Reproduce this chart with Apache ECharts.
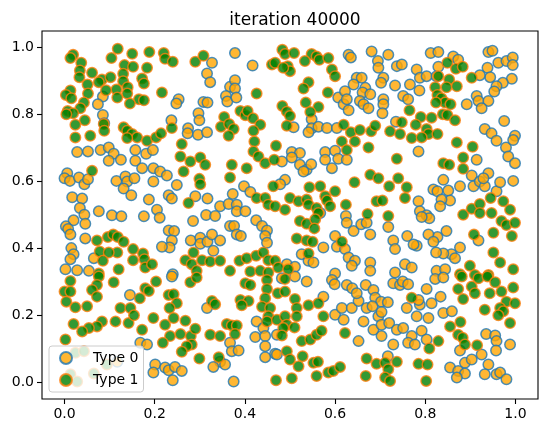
<!DOCTYPE html>
<html>
<head>
<meta charset="utf-8">
<script src="https://cdn.jsdelivr.net/npm/echarts@6/dist/echarts.min.js"></script>
<style>
  html, body { margin: 0; padding: 0; background: #fff; }
  #chart { width: 547px; height: 434px; }
</style>
</head>
<body>
<div id="chart"></div>
<script>
'use strict';
// data (x, y in data units)
var titleText = 'iteration 40000';
var seriesNames = ['Type 0', 'Type 1'];
var tickValues = [0, 0.2, 0.4, 0.6, 0.8, 1.0];

var type0 = [
  [0.085,0.854],[0.074,0.831],[0.085,0.799],[0.088,0.774],[0.028,0.688],[0.052,0.690],[0.080,0.694],[0.098,0.702],[0.109,0.683],[0.157,0.694],[0.181,0.683],
  [0.378,0.984],[0.327,0.955],[0.417,0.947],[0.316,0.923],[0.323,0.897],[0.367,0.883],[0.378,0.903],[0.378,0.878],[0.358,0.856],[0.361,0.839],[0.381,0.851],[0.253,0.846],[0.248,0.833],[0.308,0.838],[0.317,0.836],[0.297,0.804],[0.299,0.783],[0.237,0.783],[0.274,0.759],[0.273,0.744],[0.296,0.740],[0.316,0.747],[0.196,0.694],
  [0.630,0.979],[0.635,0.971],[0.681,0.989],[0.718,0.979],[0.695,0.960],[0.696,0.940],[0.737,0.945],[0.648,0.910],[0.659,0.910],[0.641,0.890],[0.667,0.880],[0.661,0.866],[0.678,0.861],[0.655,0.841],[0.663,0.831],[0.674,0.819],[0.707,0.910],[0.702,0.895],[0.733,0.887],[0.607,0.851],[0.622,0.870],[0.619,0.831],[0.626,0.846],[0.630,0.813],[0.707,0.846],[0.707,0.831],[0.705,0.804],[0.548,0.786],[0.548,0.759],[0.563,0.764],[0.582,0.760],[0.604,0.760],[0.541,0.747],[0.508,0.762],[0.504,0.688],[0.522,0.685],[0.578,0.688],[0.600,0.692],[0.735,0.779],
  [0.748,0.950],[0.812,0.984],[0.829,0.987],[0.862,0.974],[0.873,0.964],[0.940,0.987],[0.949,0.991],[0.962,0.955],[0.980,0.960],[0.994,0.971],[0.994,0.948],[0.938,0.940],[0.944,0.912],[0.921,0.918],[0.781,0.935],[0.788,0.910],[0.803,0.915],[0.825,0.915],[0.829,0.943],[0.766,0.890],[0.787,0.872],[0.751,0.856],[0.762,0.846],[0.992,0.907],[0.972,0.895],[0.958,0.885],[0.953,0.869],[0.914,0.856],[0.892,0.831],[0.918,0.841],[0.940,0.841],[0.925,0.819],[0.975,0.781],[0.932,0.757],[0.947,0.744],[0.958,0.722],[0.979,0.702],[0.999,0.737],[0.995,0.724],[0.785,0.690],
  [0.098,0.662],[0.125,0.665],[0.157,0.662],[0.172,0.640],[0.006,0.625],[0.000,0.610],[0.012,0.602],[0.032,0.612],[0.044,0.592],[0.052,0.607],[0.115,0.602],[0.135,0.615],[0.139,0.600],[0.155,0.610],[0.131,0.579],[0.148,0.559],[0.017,0.553],[0.039,0.549],[0.034,0.521],[0.044,0.501],[0.076,0.511],[0.105,0.499],[0.126,0.496],[0.187,0.546],[0.176,0.496],[0.020,0.484],[0.003,0.466],[0.008,0.458],[0.013,0.442],[0.046,0.474],[0.046,0.430],[0.015,0.401],[0.020,0.383],[0.013,0.368],[0.002,0.338],[0.028,0.335],[0.054,0.333],[0.065,0.371],
  [0.197,0.640],[0.212,0.630],[0.227,0.618],[0.197,0.600],[0.249,0.590],[0.231,0.559],[0.238,0.549],[0.290,0.556],[0.317,0.549],[0.345,0.526],[0.364,0.533],[0.382,0.531],[0.382,0.511],[0.401,0.511],[0.398,0.586],[0.412,0.569],[0.373,0.563],[0.205,0.516],[0.211,0.492],[0.314,0.500],[0.334,0.497],[0.285,0.482],[0.367,0.467],[0.376,0.467],[0.382,0.442],[0.391,0.437],[0.425,0.484],[0.438,0.467],[0.449,0.454],[0.445,0.437],[0.449,0.417],[0.231,0.454],[0.243,0.452],[0.238,0.424],[0.233,0.403],[0.216,0.405],[0.280,0.424],[0.301,0.432],[0.301,0.414],[0.317,0.420],[0.327,0.442],[0.345,0.424],[0.330,0.393],[0.240,0.323],
  [0.482,0.660],[0.504,0.672],[0.522,0.650],[0.537,0.635],[0.547,0.652],[0.530,0.630],[0.578,0.665],[0.593,0.640],[0.607,0.668],[0.626,0.665],[0.489,0.605],[0.478,0.592],[0.567,0.506],[0.624,0.497],[0.626,0.477],[0.641,0.452],[0.658,0.472],[0.670,0.477],[0.678,0.442],[0.718,0.464],[0.729,0.424],[0.733,0.398],[0.600,0.437],[0.604,0.405],[0.622,0.398],[0.630,0.373],[0.644,0.363],[0.637,0.348],[0.574,0.403],[0.526,0.383],[0.541,0.363],[0.552,0.358],[0.493,0.353],[0.511,0.345],[0.678,0.358],[0.678,0.333],[0.600,0.325],[0.733,0.328],
  [0.914,0.665],[0.984,0.675],[0.999,0.655],[0.995,0.602],[0.840,0.605],[0.818,0.576],[0.827,0.571],[0.851,0.573],[0.855,0.543],[0.877,0.586],[0.836,0.546],[0.833,0.526],[0.903,0.618],[0.907,0.586],[0.921,0.600],[0.932,0.586],[0.940,0.625],[0.929,0.610],[0.958,0.571],[0.966,0.598],[0.785,0.541],[0.788,0.511],[0.803,0.499],[0.809,0.490],[0.792,0.494],[0.847,0.452],[0.827,0.434],[0.807,0.442],[0.818,0.420],[0.760,0.437],[0.781,0.408],[0.774,0.412],[0.877,0.403],[0.858,0.383],[0.840,0.385],[0.824,0.388],[0.866,0.371],[0.918,0.424],[0.755,0.353],[0.770,0.343],[0.825,0.333],[0.844,0.338],
  [0.145,0.261],[0.168,0.118],[0.183,0.113],[0.117,0.061],
  [0.238,0.316],[0.316,0.222],[0.426,0.182],[0.441,0.162],[0.423,0.135],[0.445,0.138],[0.471,0.142],[0.445,0.108],[0.467,0.085],[0.445,0.075],[0.367,0.118],[0.371,0.093],[0.386,0.095],[0.345,0.061],[0.330,0.046],[0.356,0.053],[0.201,0.053],[0.197,0.029],[0.223,0.044],[0.231,0.036],[0.245,0.046],[0.260,0.034],[0.240,0.006],[0.375,0.002],
  [0.482,0.311],[0.511,0.316],[0.537,0.301],[0.593,0.306],[0.599,0.293],[0.626,0.291],[0.638,0.281],[0.668,0.291],[0.685,0.276],[0.689,0.253],[0.702,0.241],[0.717,0.239],[0.729,0.296],[0.744,0.291],[0.574,0.256],[0.600,0.202],[0.619,0.187],[0.615,0.222],[0.637,0.222],[0.652,0.243],[0.648,0.266],[0.670,0.222],[0.683,0.227],[0.696,0.197],[0.703,0.210],[0.663,0.182],[0.685,0.157],[0.703,0.172],[0.720,0.177],[0.737,0.157],[0.652,0.123],[0.703,0.138],[0.729,0.113],[0.717,0.078],[0.471,0.083],
  [0.750,0.301],[0.762,0.293],[0.803,0.279],[0.822,0.309],[0.840,0.313],[0.834,0.256],[0.814,0.236],[0.759,0.222],[0.781,0.197],[0.807,0.192],[0.840,0.207],[0.859,0.212],[0.788,0.232],[0.785,0.246],[0.751,0.162],[0.770,0.138],[0.762,0.118],[0.777,0.113],[0.792,0.154],[0.803,0.128],[0.877,0.095],[0.888,0.058],[0.903,0.068],[0.855,0.044],[0.873,0.034],[0.888,0.026],[0.870,0.014],[0.925,0.083],[0.940,0.053],[0.932,0.024],[0.958,0.024],[0.966,0.029],[0.980,0.009],[0.935,0.144],[0.955,0.140],[0.958,0.123],[0.988,0.113],[0.957,0.095]
];

var type1 = [
  [0.019,0.979],[0.013,0.969],[0.037,0.955],[0.118,0.997],[0.104,0.969],[0.150,0.982],[0.188,0.987],[0.183,0.940],[0.133,0.948],[0.152,0.943],[0.034,0.932],[0.033,0.912],[0.061,0.925],[0.083,0.905],[0.076,0.897],[0.102,0.912],[0.130,0.922],[0.130,0.900],[0.051,0.890],[0.052,0.863],[0.013,0.872],[0.003,0.859],[0.015,0.849],[0.172,0.908],[0.176,0.893],[0.115,0.875],[0.140,0.882],[0.139,0.863],[0.117,0.851],[0.092,0.873],[0.043,0.836],[0.035,0.819],[0.165,0.846],[0.176,0.843],[0.145,0.833],[0.007,0.811],[0.019,0.804],[0.004,0.801],[0.045,0.783],[0.024,0.770],[0.087,0.772],[0.088,0.752],[0.131,0.762],[0.139,0.752],[0.150,0.742],[0.161,0.732],[0.139,0.730],[0.057,0.737],[0.024,0.732],[0.183,0.722],
  [0.220,0.984],[0.223,0.967],[0.240,0.958],[0.290,0.958],[0.308,0.976],[0.460,0.950],[0.467,0.955],[0.216,0.866],[0.426,0.863],[0.390,0.811],[0.401,0.798],[0.406,0.811],[0.418,0.789],[0.354,0.793],[0.347,0.764],[0.365,0.772],[0.375,0.757],[0.364,0.737],[0.434,0.770],[0.419,0.752],[0.421,0.720],[0.419,0.690],[0.469,0.707],[0.203,0.732],[0.214,0.744],[0.238,0.760],[0.260,0.712],
  [0.483,0.994],[0.489,0.981],[0.509,0.984],[0.495,0.945],[0.500,0.930],[0.485,0.940],[0.548,0.981],[0.559,0.974],[0.565,0.964],[0.585,0.969],[0.533,0.960],[0.593,0.935],[0.600,0.915],[0.541,0.897],[0.530,0.878],[0.584,0.866],[0.535,0.836],[0.563,0.823],[0.545,0.808],[0.483,0.826],[0.493,0.809],[0.500,0.796],[0.493,0.767],[0.619,0.770],[0.635,0.747],[0.655,0.754],[0.680,0.750],[0.689,0.767],[0.722,0.750],[0.744,0.742],[0.615,0.720],[0.626,0.694],[0.644,0.720],[0.674,0.702],
  [0.849,0.955],[0.868,0.937],[0.883,0.943],[0.829,0.915],[0.853,0.905],[0.847,0.882],[0.822,0.882],[0.870,0.885],[0.903,0.910],[0.827,0.859],[0.836,0.849],[0.844,0.836],[0.856,0.831],[0.824,0.836],[0.765,0.813],[0.790,0.793],[0.814,0.791],[0.839,0.801],[0.849,0.799],[0.866,0.783],[0.748,0.777],[0.779,0.770],[0.803,0.757],[0.807,0.742],[0.827,0.742],[0.770,0.730],[0.792,0.732],[0.870,0.717],[0.905,0.704],
  [0.061,0.632],[0.072,0.424],[0.096,0.434],[0.108,0.442],[0.118,0.434],[0.131,0.420],[0.078,0.391],[0.117,0.388],[0.098,0.388],[0.152,0.398],[0.174,0.385],[0.177,0.368],[0.152,0.365],[0.085,0.363],[0.120,0.338],[0.179,0.343],[0.076,0.325],
  [0.257,0.675],[0.279,0.660],[0.301,0.672],[0.312,0.650],[0.264,0.630],[0.299,0.608],[0.301,0.592],[0.371,0.650],[0.367,0.612],[0.404,0.640],[0.430,0.675],[0.445,0.655],[0.465,0.665],[0.463,0.586],[0.426,0.551],[0.445,0.551],[0.452,0.531],[0.467,0.526],[0.275,0.536],[0.286,0.388],[0.268,0.365],[0.282,0.353],[0.305,0.365],[0.323,0.361],[0.345,0.363],[0.293,0.333],[0.367,0.333],[0.388,0.363],[0.404,0.371],[0.425,0.378],[0.441,0.388],[0.452,0.365],[0.467,0.363],[0.412,0.331],[0.434,0.333],[0.452,0.328],[0.194,0.353],
  [0.543,0.583],[0.567,0.586],[0.600,0.571],[0.578,0.556],[0.582,0.543],[0.589,0.526],[0.500,0.551],[0.519,0.541],[0.537,0.546],[0.541,0.531],[0.559,0.521],[0.563,0.506],[0.489,0.516],[0.624,0.531],[0.643,0.598],[0.678,0.620],[0.696,0.610],[0.720,0.586],[0.740,0.610],[0.692,0.541],[0.705,0.543],[0.718,0.497],[0.672,0.503],[0.522,0.482],[0.537,0.474],[0.556,0.487],[0.554,0.460],[0.515,0.430],[0.537,0.424],[0.550,0.420],[0.615,0.420],[0.541,0.385],[0.474,0.343],[0.496,0.338],[0.737,0.668],
  [0.840,0.655],[0.853,0.650],[0.884,0.672],[0.884,0.638],[0.759,0.583],[0.755,0.551],[0.884,0.501],[0.903,0.519],[0.921,0.533],[0.921,0.506],[0.945,0.551],[0.947,0.506],[0.973,0.541],[0.988,0.516],[0.969,0.482],[0.980,0.470],[0.999,0.477],[0.992,0.437],[0.908,0.442],[0.951,0.447],[0.951,0.388],[0.966,0.358],[0.995,0.338],[0.899,0.348],[0.877,0.323],[0.910,0.321],[0.940,0.321],
  [0.013,0.303],[0.076,0.316],[0.072,0.291],[0.061,0.276],[0.072,0.256],[0.109,0.299],[0.000,0.271],[0.013,0.271],[0.004,0.241],[0.024,0.224],[0.050,0.227],[0.179,0.281],[0.187,0.273],[0.167,0.251],[0.124,0.222],[0.146,0.222],[0.142,0.177],[0.154,0.200],[0.113,0.182],[0.083,0.182],[0.072,0.167],[0.054,0.162],[0.039,0.152],[0.020,0.174],[0.172,0.157],[0.002,0.128],[0.024,0.088],[0.043,0.093],[0.094,0.053],[0.065,0.026],[0.013,0.024],[0.028,0.002],
  [0.203,0.301],[0.279,0.299],[0.293,0.313],[0.231,0.261],[0.242,0.263],[0.249,0.236],[0.233,0.222],[0.327,0.243],[0.334,0.233],[0.390,0.246],[0.408,0.243],[0.393,0.230],[0.401,0.296],[0.412,0.291],[0.449,0.306],[0.449,0.279],[0.445,0.251],[0.438,0.226],[0.456,0.222],[0.452,0.197],[0.449,0.182],[0.471,0.187],[0.197,0.192],[0.223,0.172],[0.242,0.192],[0.268,0.184],[0.234,0.138],[0.257,0.144],[0.280,0.138],[0.282,0.113],[0.271,0.108],[0.290,0.160],[0.360,0.174],[0.371,0.170],[0.382,0.170],[0.323,0.142],[0.345,0.138],[0.378,0.144],[0.218,0.118],[0.260,0.091],[0.299,0.071],[0.342,0.075],[0.469,0.006],
  [0.489,0.309],[0.473,0.266],[0.489,0.271],[0.511,0.249],[0.515,0.222],[0.515,0.197],[0.541,0.230],[0.563,0.236],[0.574,0.197],[0.489,0.197],[0.493,0.172],[0.485,0.162],[0.510,0.164],[0.482,0.140],[0.526,0.123],[0.545,0.128],[0.559,0.142],[0.570,0.154],[0.622,0.147],[0.493,0.093],[0.500,0.068],[0.519,0.048],[0.528,0.078],[0.552,0.058],[0.562,0.061],[0.585,0.029],[0.596,0.034],[0.611,0.046],[0.559,0.019],[0.504,0.012],[0.670,0.071],[0.692,0.055],[0.711,0.058],[0.718,0.039],[0.737,0.061],[0.668,0.019],[0.711,0.014],[0.722,0.004],
  [0.881,0.316],[0.918,0.311],[0.938,0.316],[0.955,0.299],[0.903,0.286],[0.910,0.266],[0.873,0.279],[0.884,0.249],[0.943,0.266],[0.969,0.271],[0.995,0.283],[0.980,0.241],[0.999,0.236],[0.966,0.222],[0.973,0.212],[0.962,0.200],[0.932,0.217],[0.988,0.177],[0.770,0.253],[0.855,0.167],[0.878,0.180],[0.873,0.142],[0.883,0.133],[0.888,0.113],[0.915,0.111],[0.829,0.123],[0.809,0.101],[0.785,0.055],[0.805,0.053],[0.802,0.004]
];

var font = 'DejaVu Sans';

function valueAxis() {
  return {
    type: 'value',
    min: -0.05,
    max: 1.05,
    splitLine: {show: false},
    axisLine: {show: false, onZero: false},
    axisTick: {show: true, inside: false, length: 5, customValues: tickValues,
               lineStyle: {color: '#000', width: 1.1}},
    axisLabel: {show: true, customValues: tickValues, margin: 8,
                color: '#000', fontSize: 14, fontFamily: font,
                formatter: function (v) { return v.toFixed(1); }}
  };
}

var chart = echarts.init(document.getElementById('chart'), null, {renderer: 'canvas'});
chart.setOption({
  backgroundColor: '#fff',
  animation: false,
  title: {
    text: titleText,
    left: 290,
    top: 7,
    textAlign: 'center',
    textStyle: {fontFamily: font, fontSize: 17, fontWeight: 'normal', color: '#000'}
  },
  grid: {
    left: 42, top: 31, width: 496, height: 368,
    show: true, borderColor: '#000', borderWidth: 1.1, backgroundColor: 'transparent'
  },
  legend: {
    data: seriesNames,
    orient: 'vertical',
    left: 49,
    top: 346,
    padding: [5, 5, 5, 10],
    itemGap: 8,
    itemWidth: 28,
    itemHeight: 12,
    icon: 'circle',
    backgroundColor: 'rgba(255,255,255,0.8)',
    borderColor: '#cccccc',
    borderWidth: 1,
    borderRadius: 3,
    textStyle: {fontFamily: font, fontSize: 14, color: '#000', padding: [0, 0, 0, 8]}
  },
  xAxis: valueAxis(),
  yAxis: valueAxis(),
  series: [
    {
      name: seriesNames[0],
      type: 'scatter',
      data: type0,
      symbolSize: 10.5,
      itemStyle: {color: '#ffa500', borderColor: '#1f77b4', borderWidth: 1.5, opacity: 0.8}
    },
    {
      name: seriesNames[1],
      type: 'scatter',
      data: type1,
      symbolSize: 10.5,
      itemStyle: {color: '#008000', borderColor: '#ff7f0e', borderWidth: 1.5, opacity: 0.8}
    }
  ]
});
</script>
</body>
</html>
